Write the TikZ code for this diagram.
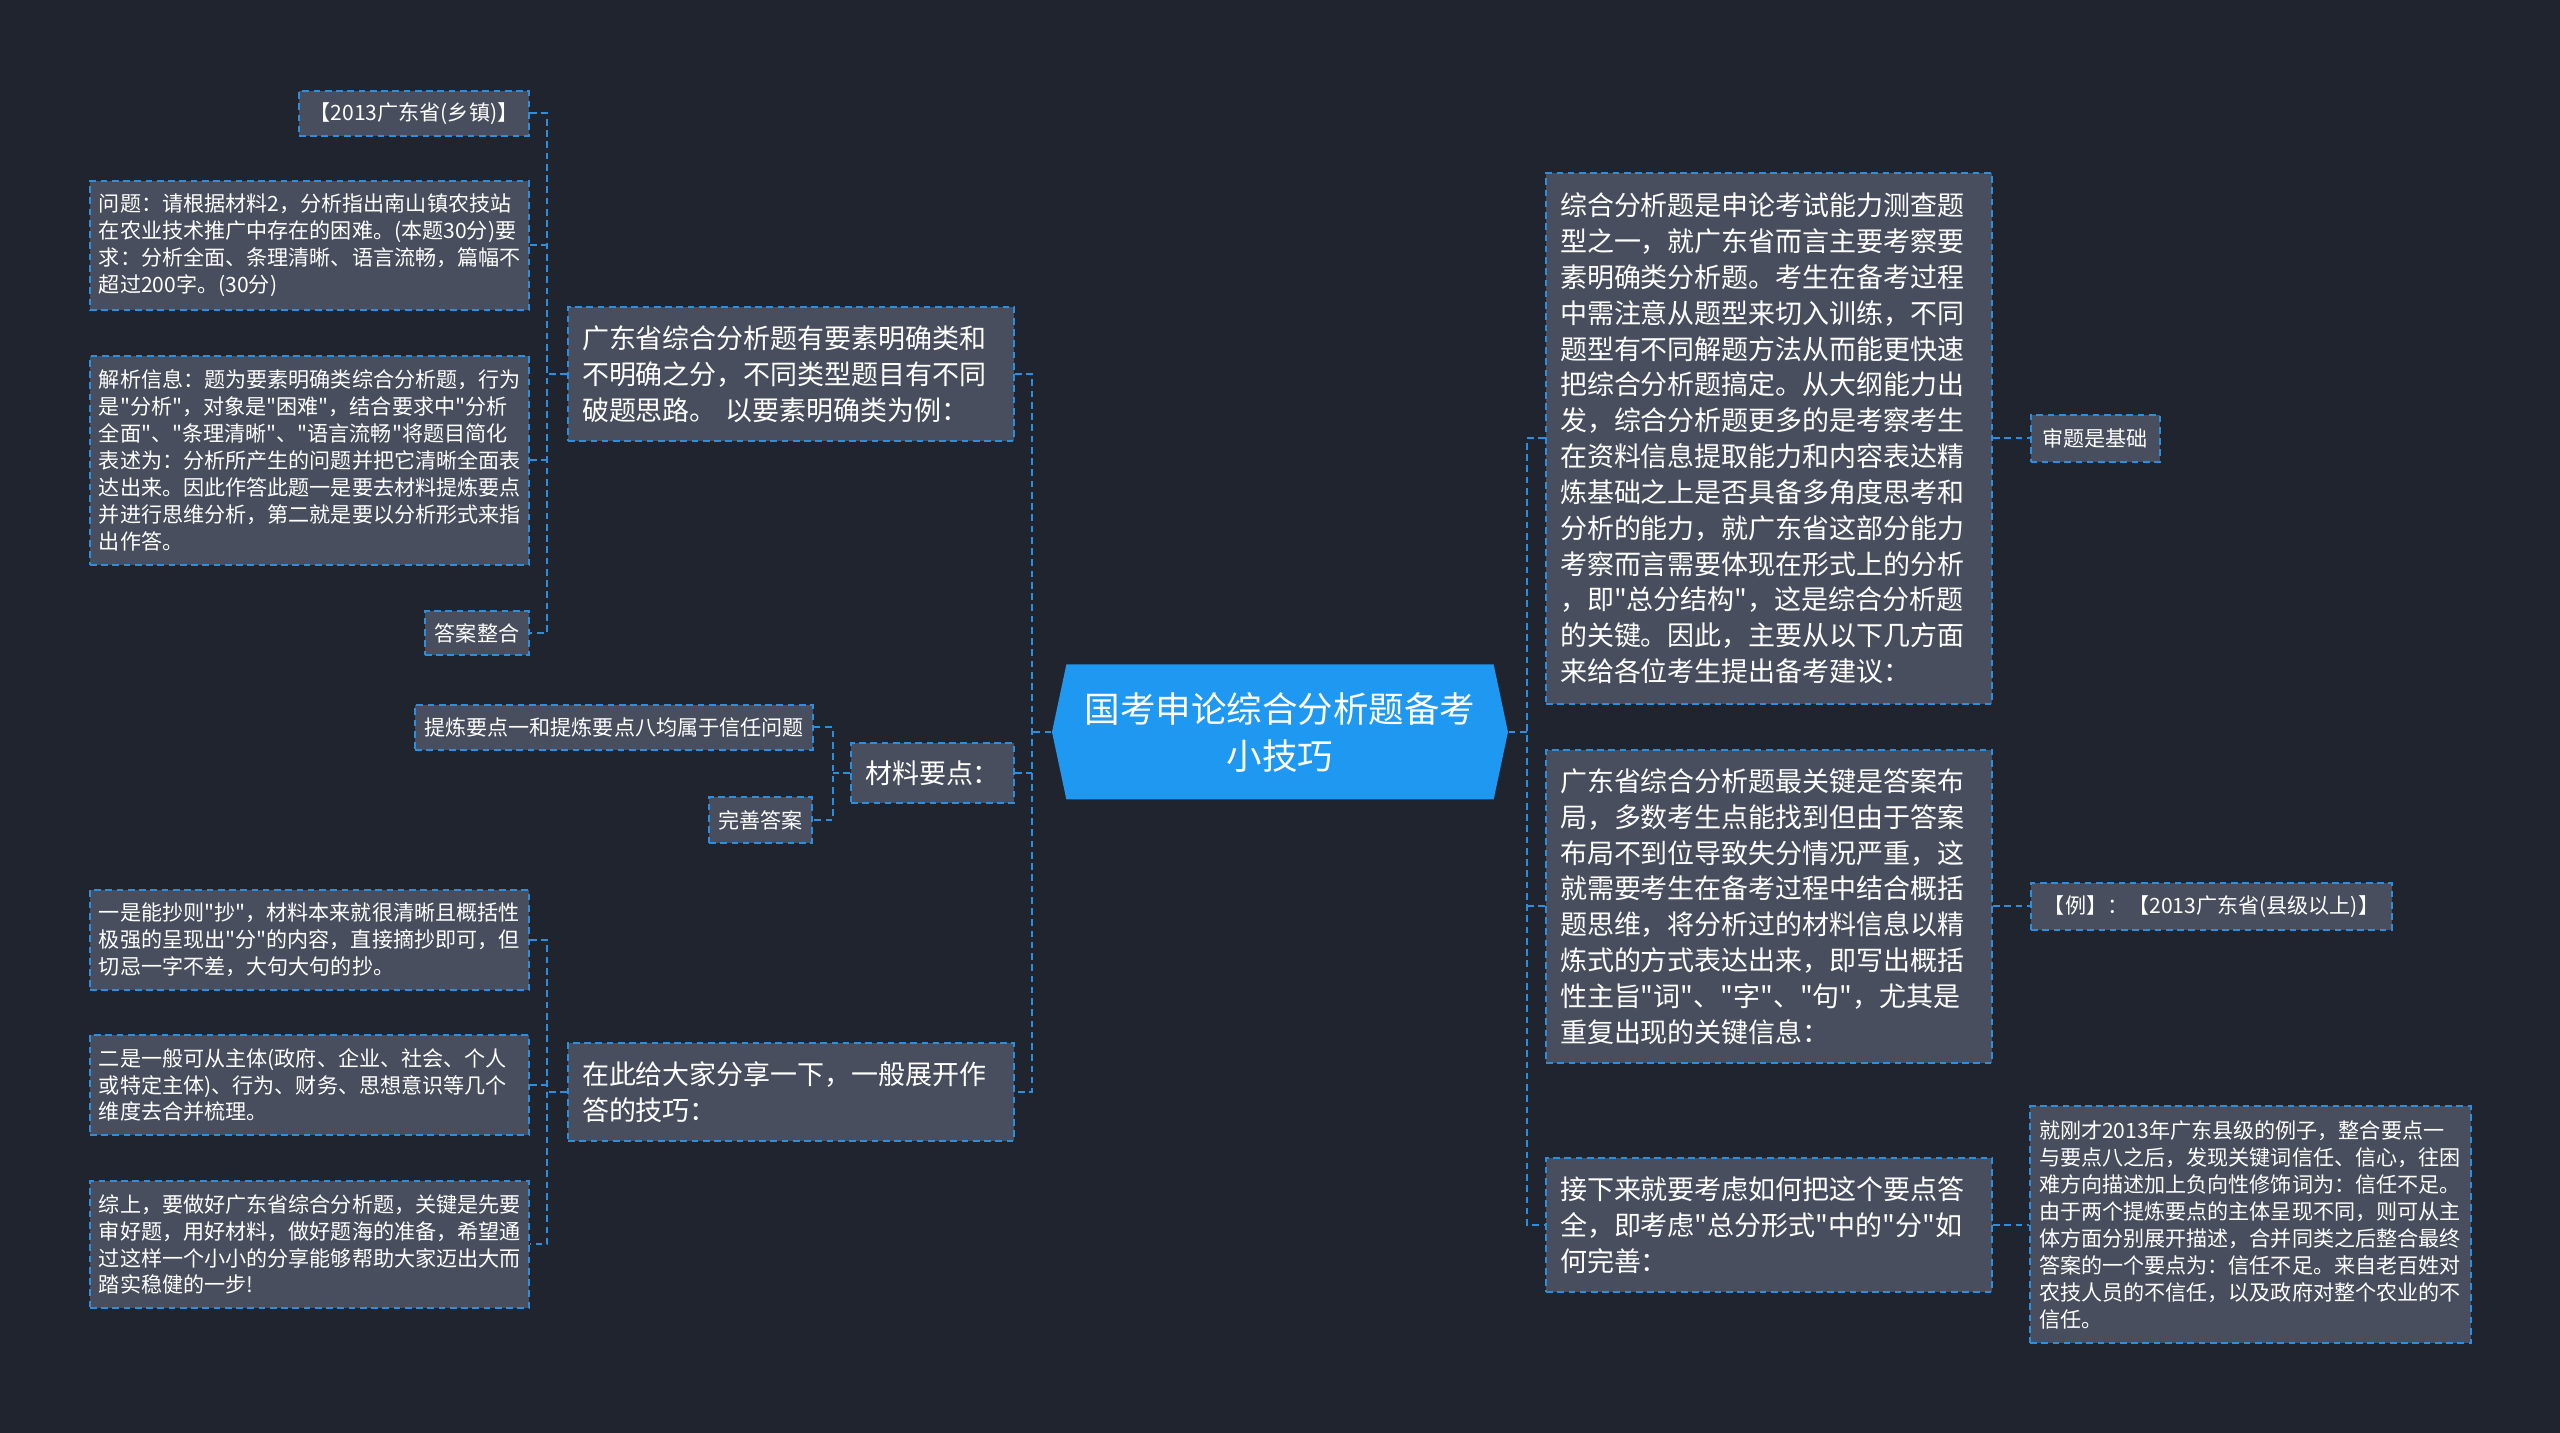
\documentclass[tikz,border=0pt]{standalone}
\usepackage{fontspec}
\setmainfont{Noto Sans CJK SC}[Ligatures=TeXOff]
\usetikzlibrary{shapes.symbols}
\definecolor{bgnavy}{HTML}{20242F}
\definecolor{boxgray}{HTML}{484E5E}
\definecolor{linkblue}{HTML}{2B8FE0}
\definecolor{rootblue}{HTML}{1E98F0}
\tikzset{
  mapbox/.style={
    draw=linkblue,line width=0.57pt,dash pattern=on 1.9pt off 1.3pt,
    fill=boxgray,text=white,inner ysep=0pt,anchor=center
  },
  bigbox/.style={mapbox,font=\fontsize{7.68}{10.19}\selectfont,inner xsep=0.14cm},
  smallbox/.style={mapbox,font=\fontsize{6.0}{7.65}\selectfont,inner xsep=0.09cm},
  rootbox/.style={
    shape=signal,signal to=west and east,signal pointer angle=156,
    fill=rootblue,text=white,font=\fontsize{10.1}{13.4}\selectfont,
    align=center,inner sep=0pt
  },
  link/.style={draw=linkblue,line width=0.57pt,dash pattern=on 1.9pt off 1.3pt}
}

\begin{document}
\begin{tikzpicture}[x=1cm,y=1cm]
  \fill[bgnavy] (0,0) rectangle (25.6,-14.33);

  \node[rootbox,minimum width=4.56cm,minimum height=1.35cm] (root) at (12.80,-7.32)
    {国考申论综合分析题备考\\小技巧};

  \node[bigbox,text width=4.18cm,align=left,minimum height=1.34cm] (L1) at (7.91,-3.74)
    {广东省综合分析题有要素明确类和\\不明确之分，不同类型题目有不同\\破题思路。 以要素明确类为例：};
  \node[smallbox,minimum width=2.30cm,minimum height=0.45cm] (L1a) at (4.14,-1.135)
    {【2013广东省(乡镇)】};
  \node[smallbox,text width=4.21cm,align=left,minimum height=1.29cm] (L1b) at (3.095,-2.455)
    {问题：请根据材料2，分析指出南山镇农技站\\在农业技术推广中存在的困难。(本题30分)要\\求：分析全面、条理清晰、语言流畅，篇幅不\\超过200字。(30分)};
  \node[smallbox,text width=4.21cm,align=left,minimum height=2.09cm] (L1c) at (3.095,-4.605)
    {解析信息：题为要素明确类综合分析题，行为\\是"分析"，对象是"困难"，结合要求中"分析\\全面"、"条理清晰"、"语言流畅"将题目简化\\表述为：分析所产生的问题并把它清晰全面表\\达出来。因此作答此题一是要去材料提炼要点\\并进行思维分析，第二就是要以分析形式来指\\出作答。};
  \node[smallbox,minimum width=1.04cm,minimum height=0.44cm] (L1d) at (4.77,-6.33)
    {答案整合};

  \node[bigbox,minimum width=1.63cm,minimum height=0.60cm] (L2) at (9.325,-7.73)
    {材料要点：};
  \node[smallbox,minimum width=3.96cm,minimum height=0.45cm] (L2a) at (6.14,-7.275)
    {提炼要点一和提炼要点八均属于信任问题};
  \node[smallbox,minimum width=1.03cm,minimum height=0.46cm] (L2b) at (7.605,-8.20)
    {完善答案};

  \node[bigbox,text width=4.18cm,align=left,minimum height=0.98cm] (L3) at (7.91,-10.92)
    {在此给大家分享一下，一般展开作\\答的技巧：};
  \node[smallbox,text width=4.21cm,align=left,minimum height=1.00cm] (L3a) at (3.095,-9.40)
    {一是能抄则"抄"，材料本来就很清晰且概括性\\极强的呈现出"分"的内容，直接摘抄即可，但\\切忌一字不差，大句大句的抄。};
  \node[smallbox,text width=4.21cm,align=left,minimum height=1.00cm] (L3b) at (3.095,-10.85)
    {二是一般可从主体(政府、企业、社会、个人\\或特定主体)、行为、财务、思想意识等几个\\维度去合并梳理。};
  \node[smallbox,text width=4.21cm,align=left,minimum height=1.27cm] (L3c) at (3.095,-12.445)
    {综上，要做好广东省综合分析题，关键是先要\\审好题，用好材料，做好题海的准备，希望通\\过这样一个小小的分享能够帮助大家迈出大而\\踏实稳健的一步!};

  \node[bigbox,text width=4.18cm,align=left,minimum height=5.31cm] (R1) at (17.69,-4.385)
    {综合分析题是申论考试能力测查题\\型之一，就广东省而言主要考察要\\素明确类分析题。考生在备考过程\\中需注意从题型来切入训练，不同\\题型有不同解题方法从而能更快速\\把综合分析题搞定。从大纲能力出\\发，综合分析题更多的是考察考生\\在资料信息提取能力和内容表达精\\炼基础之上是否具备多角度思考和\\分析的能力，就广东省这部分能力\\考察而言需要体现在形式上的分析\\，即"总分结构"，这是综合分析题\\的关键。因此，主要从以下几方面\\来给各位考生提出备考建议：};
  \node[smallbox,minimum width=1.29cm,minimum height=0.47cm] (R1a) at (20.95,-4.385)
    {审题是基础};

  \node[bigbox,text width=4.18cm,align=left,minimum height=3.13cm] (R2) at (17.69,-9.065)
    {广东省综合分析题最关键是答案布\\局，多数考生点能找到但由于答案\\布局不到位导致失分情况严重，这\\就需要考生在备考过程中结合概括\\题思维，将分析过的材料信息以精\\炼式的方式表达出来，即写出概括\\性主旨"词"、"字"、"句"，尤其是\\重复出现的关键信息：};
  \node[smallbox,minimum width=3.61cm,minimum height=0.47cm] (R2a) at (22.115,-9.065)
    {【例】：【2013广东省(县级以上)】};

  \node[bigbox,text width=4.18cm,align=left,minimum height=1.34cm] (R3) at (17.69,-12.25)
    {接下来就要考虑如何把这个要点答\\全，即考虑"总分形式"中的"分"如\\何完善：};
  \node[smallbox,text width=4.23cm,align=left,minimum height=2.37cm] (R3a) at (22.505,-12.25)
    {就刚才2013年广东县级的例子，整合要点一\\与要点八之后，发现关键词信任、信心，往困\\难方向描述加上负向性修饰词为：信任不足。\\由于两个提炼要点的主体呈现不同，则可从主\\体方面分别展开描述，合并同类之后整合最终\\答案的一个要点为：信任不足。来自老百姓对\\农技人员的不信任，以及政府对整个农业的不\\信任。};

  \coordinate (jL) at (10.32,-7.32);
  \coordinate (jR) at (15.27,-7.32);
  \coordinate (j1) at (5.47,-3.74);
  \coordinate (j2) at (8.33,-7.73);
  \coordinate (j3) at (5.47,-10.92);

  \draw[link] (L1.east) -| (jL) |- (L3.east);
  \draw[link] (root.west) -- (jL);
  \draw[link] (L2.east) -- (L2.east -| jL);
  \draw[link] (R1.west) -| (jR) |- (R3.west);
  \draw[link] (root.east) -- (jR);
  \draw[link] (R2.west) -- (R2.west -| jR);

  \draw[link] (L1a.east) -| (j1) |- (L1d.east);
  \draw[link] (L1b.east) -- (L1b.east -| j1);
  \draw[link] (L1c.east) -- (L1c.east -| j1);
  \draw[link] (L1.west) -- (j1);
  \draw[link] (L2a.east) -| (j2) |- (L2b.east);
  \draw[link] (L2.west) -- (j2);
  \draw[link] (L3a.east) -| (j3) |- (L3c.east);
  \draw[link] (L3b.east) -- (L3b.east -| j3);
  \draw[link] (L3.west) -- (j3);

  \draw[link] (R1.east) -- (R1a.west);
  \draw[link] (R2.east) -- (R2a.west);
  \draw[link] (R3.east) -- (R3a.west);
\end{tikzpicture}
\end{document}
